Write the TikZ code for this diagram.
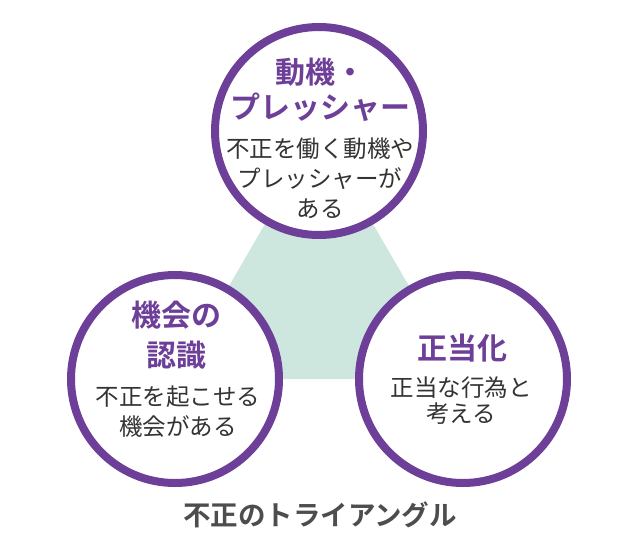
\documentclass[tikz,border=0pt]{standalone}
\usepackage{fontspec}
\newfontfamily\jp{Noto Sans CJK JP}[BoldFont={Noto Sans CJK JP Bold}]
\definecolor{fpurple}{HTML}{6E3F98}
\definecolor{fgreen}{HTML}{CDE7DF}
\definecolor{ftext}{HTML}{333333}
\definecolor{fcap}{HTML}{4D4D4D}
\tikzset{
  ring/.style={circle, draw=fpurple, line width=8pt, fill=white, minimum size=208pt, inner sep=0pt},
  head/.style={align=center, text=fpurple, font=\jp\bfseries\fontsize{30}{35}\selectfont},
  body/.style={align=center, text=ftext, font=\jp\fontsize{23.5}{30}\selectfont},
}
\begin{document}
\begin{tikzpicture}[x=1pt,y=-1pt]
\useasboundingbox (0,0) rectangle (636,554);
\coordinate (pc) at (319,131);
\coordinate (oc) at (175,379);
\coordinate (rc) at (463,379);
% background triangle
\fill[fgreen] (pc) -- (oc) -- (rc) -- cycle;
% three rings
\node[ring] (press) at (pc) {};
\node[ring] (opp) at (oc) {};
\node[ring] (rat) at (rc) {};
% pressure
\node[head] (presshead) at (320,90) {動機・\\プレッシャー};
\node[body] (pressbody) at (320,178) {不正を働く動機や\\プレッシャーが\\ある};
% opportunity
\node[head, font=\jp\bfseries\fontsize{30}{40}\selectfont] (opphead) at (176,335) {機会の\\認識};
\node[body] (oppbody) at (178,412) {不正を起こせる\\機会がある};
% rationalization
\node[head] (rathead) at (462,348) {正当化};
\node[body, font=\jp\fontsize{23.5}{26}\selectfont] (ratbody) at (461,401) {正当な行為と\\考える};
% caption
\node[text=fcap, font=\jp\bfseries\fontsize{27.5}{30}\selectfont] (caption) at (320,515) {不正のトライアングル};
\end{tikzpicture}
\end{document}
